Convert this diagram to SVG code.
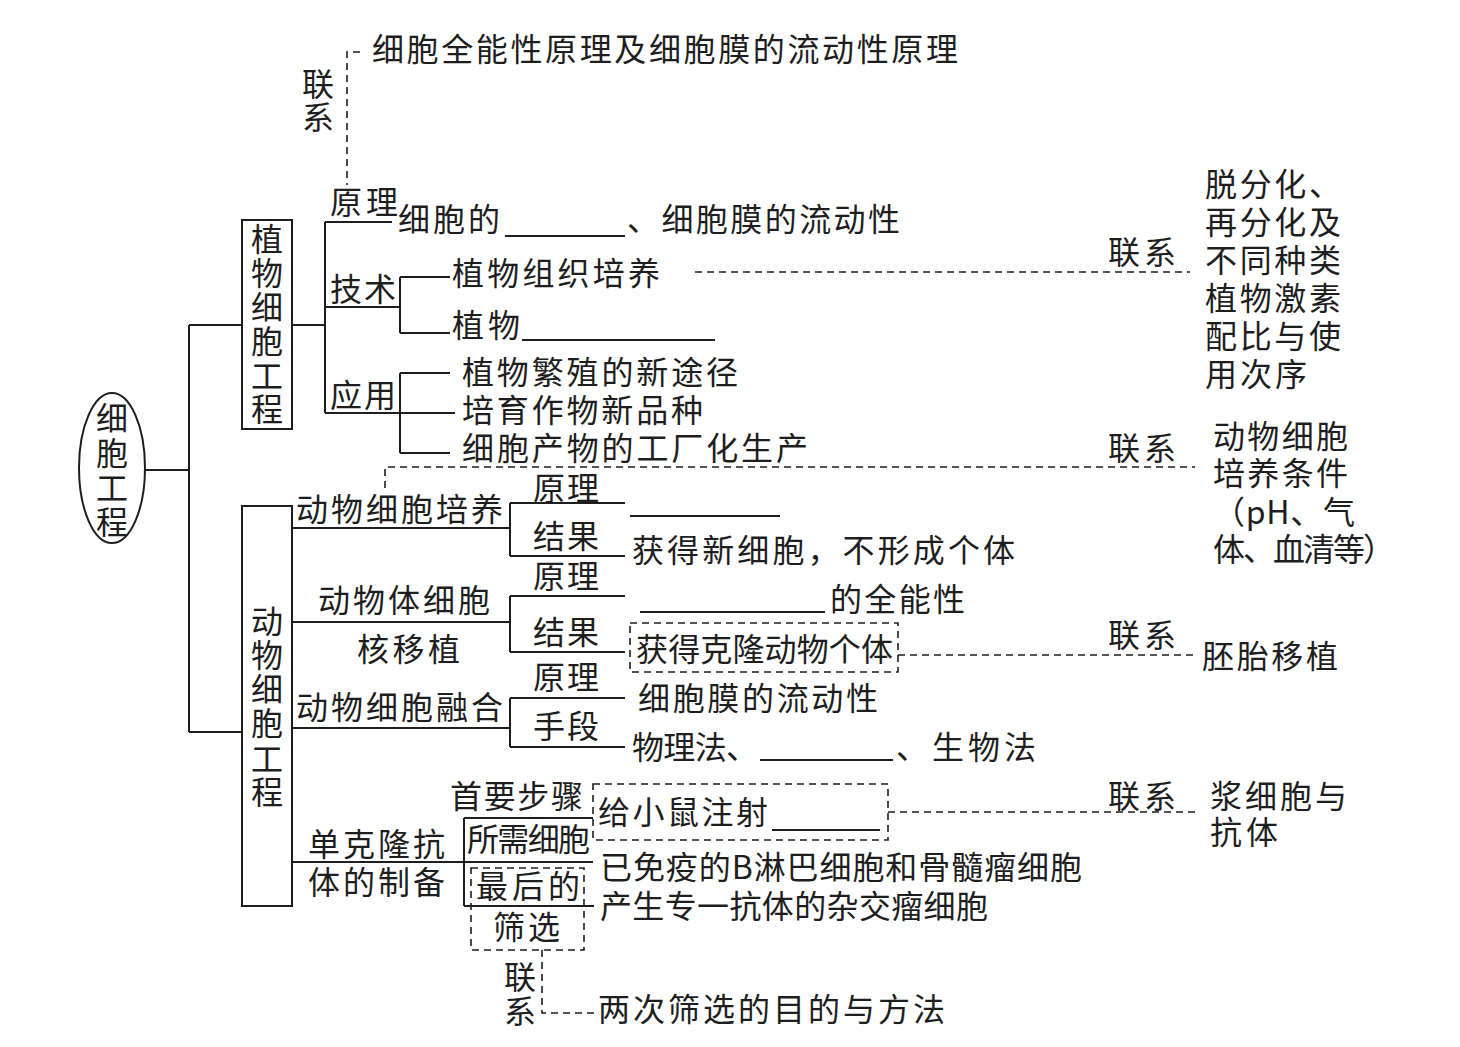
<svg xmlns="http://www.w3.org/2000/svg" width="1460" height="1047" viewBox="0 0 1460 1047">
<style>
text{font-family:"Noto Sans CJK SC","Liberation Sans",sans-serif;font-size:32px;fill:#1e1e1e}
.v{text-anchor:middle}
.s{stroke:#1e1e1e;stroke-width:2;fill:none}
.d{stroke:#1e1e1e;stroke-width:1.6;fill:none;stroke-dasharray:7 5}
</style>
<rect width="1460" height="1047" fill="#fff"/>
<g id="connectors">
<path class="s" d="M145 470H189M189 325V732M189 325H242M189 732H242"/>
<path class="s" d="M292 325H325M325 222V413M325 222H392M325 307H400M400 277V333M400 277H450M400 333H450M325 413H400M400 373V453M400 373H450M400 413H455M400 453H450"/>
<path class="s" d="M292 528H510M510 503V556M510 503H625M510 556H625"/>
<path class="s" d="M292 622H510M510 596V652M510 596H625M510 652H625"/>
<path class="s" d="M292 728H510M510 698V747M510 698H625M510 747H625"/>
<path class="s" d="M292 862H593M464 818V906M464 818H593M464 906H594"/>
<path class="s" d="M505 236H625M522 340H715M630 516H780M640 612H825M760 760H893M772 830H880"/>
<path class="d" d="M360 52H347V185"/>
<path class="d" d="M695 272H1190"/>
<path class="d" d="M385 488V467H1195"/>
<path class="d" d="M898 655H1195"/>
<path class="d" d="M888 812H1195"/>
<path class="d" d="M542 950V1013H597"/>
</g>
<g id="root"><ellipse class="s" cx="112" cy="468" rx="33" ry="75"/>
<text class="v"><tspan x="112" y="430">细</tspan><tspan x="112" y="465">胞</tspan><tspan x="112" y="500">工</tspan><tspan x="112" y="534">程</tspan></text></g>
<g id="top-link"><text class="v"><tspan x="318" y="96">联</tspan><tspan x="318" y="129">系</tspan></text>
<text x="372" y="61" textLength="586" lengthAdjust="spacing">细胞全能性原理及细胞膜的流动性原理</text></g>
<g id="plant"><rect class="s" x="242" y="220" width="50" height="209"/>
<text class="v"><tspan x="267" y="251">植</tspan><tspan x="267" y="285">物</tspan><tspan x="267" y="319">细</tspan><tspan x="267" y="353">胞</tspan><tspan x="267" y="388">工</tspan><tspan x="267" y="421">程</tspan></text></g>
<g id="plant-principle"><text x="330" y="214" textLength="68">原理</text>
<text x="398" y="231" textLength="102">细胞的</text><text x="627" y="231" textLength="273">、细胞膜的流动性</text></g>
<g id="plant-tech"><text x="330" y="301" textLength="66">技术</text>
<text x="452" y="285" textLength="208">植物组织培养</text>
<text x="452" y="337" textLength="68">植物</text>
<text x="1108" y="264" textLength="68">联系</text>
<text x="1205" y="196" textLength="136">脱分化、</text><text x="1205" y="234" textLength="136">再分化及</text><text x="1205" y="272" textLength="136">不同种类</text><text x="1205" y="310" textLength="136">植物激素</text><text x="1205" y="348" textLength="136">配比与使</text><text x="1205" y="386" textLength="102">用次序</text></g>
<g id="plant-apply"><text x="330" y="407" textLength="66">应用</text>
<text x="462" y="384" textLength="276">植物繁殖的新途径</text>
<text x="462" y="422" textLength="241">培育作物新品种</text>
<text x="462" y="460" textLength="346">细胞产物的工厂化生产</text>
<text x="1108" y="460" textLength="68">联系</text>
<text x="1213" y="448" textLength="135">动物细胞</text><text x="1213" y="485" textLength="135">培养条件</text><text x="1213" y="524" textLength="142">（pH、气</text><text x="1213" y="561" textLength="182">体、血清等）</text></g>
<g id="animal"><rect class="s" x="242" y="506" width="50" height="400"/>
<text class="v"><tspan x="267" y="633">动</tspan><tspan x="267" y="667">物</tspan><tspan x="267" y="701">细</tspan><tspan x="267" y="735">胞</tspan><tspan x="267" y="771">工</tspan><tspan x="267" y="804">程</tspan></text></g>
<g id="culture"><text x="296" y="521" textLength="207">动物细胞培养</text>
<text x="533" y="500" textLength="66">原理</text><text x="533" y="548" textLength="66">结果</text>
<text x="632" y="562" textLength="383">获得新细胞，不形成个体</text></g>
<g id="nuclear-transfer"><text x="318" y="612" textLength="172">动物体细胞</text><text x="357" y="661" textLength="103">核移植</text>
<text x="533" y="588" textLength="66">原理</text><text x="533" y="644" textLength="66">结果</text>
<text x="830" y="611" textLength="135">的全能性</text>
<rect class="d" x="630" y="623" width="268" height="49"/>
<text x="636" y="661" textLength="257">获得克隆动物个体</text>
<text x="1108" y="647" textLength="68">联系</text>
<text x="1202" y="668" textLength="136">胚胎移植</text></g>
<g id="fusion"><text x="296" y="719" textLength="207">动物细胞融合</text>
<text x="533" y="689" textLength="66">原理</text><text x="533" y="738" textLength="66">手段</text>
<text x="638" y="710" textLength="240">细胞膜的流动性</text>
<text x="632" y="759" textLength="126">物理法、</text><text x="896" y="759" textLength="140">、生物法</text></g>
<g id="monoclonal"><text x="308" y="856" textLength="137">单克隆抗</text><text x="308" y="894" textLength="137">体的制备</text>
<text x="450" y="808" textLength="133">首要步骤</text>
<rect class="d" x="593" y="784" width="295" height="56"/>
<text x="598" y="824" textLength="170">给小鼠注射</text>
<text x="1108" y="808" textLength="68">联系</text>
<text x="1210" y="808" textLength="137">浆细胞与</text><text x="1210" y="844" textLength="68">抗体</text>
<text x="467" y="851" textLength="123">所需细胞</text>
<rect class="d" x="471" y="868" width="113" height="82"/>
<text x="476" y="898" textLength="104">最后的</text><text x="493" y="939" textLength="67">筛选</text>
<text x="600" y="879" textLength="482">已免疫的B淋巴细胞和骨髓瘤细胞</text>
<text x="600" y="918" textLength="388">产生专一抗体的杂交瘤细胞</text>
<text class="v"><tspan x="520" y="989">联</tspan><tspan x="520" y="1023">系</tspan></text>
<text x="598" y="1021" textLength="347">两次筛选的目的与方法</text></g>
</svg>
